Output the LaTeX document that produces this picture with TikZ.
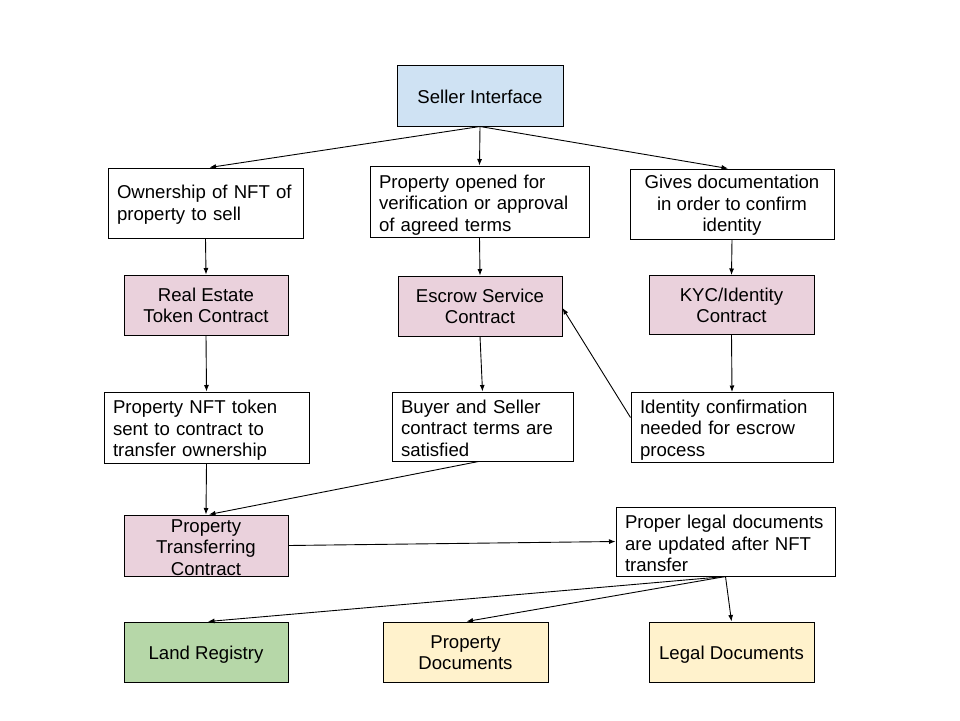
\documentclass[tikz,border=0pt]{standalone}
\usepackage{fontspec}
\setmainfont{Liberation Sans}
\usetikzlibrary{arrows.meta,calc}
\definecolor{cblue}{HTML}{CFE2F3}
\definecolor{cpink}{HTML}{EAD1DC}
\definecolor{cgreen}{HTML}{B6D7A8}
\definecolor{cyellow}{HTML}{FFF2CC}
\newcommand\topr[1]{\rule{0pt}{#1pt}}
\newcommand\botr[1]{\rule[-#1pt]{0pt}{#1pt}}
\begin{document}
\begin{tikzpicture}[x=1pt,y=-1pt,
  box/.style={draw=black, line width=1pt, rectangle, inner xsep=9pt, inner ysep=0pt,
              font=\fontsize{18.6}{21.5}\selectfont},
  lbox/.style={box, align=left},
  cbox/.style={box, align=center},
  conn/.style={line width=0.9pt, -{Latex[length=6.5pt,width=5pt]}}
]
\useasboundingbox[fill=white] (0,0) rectangle (960,720);

\node[cbox, fill=cblue, minimum width=166pt, minimum height=61pt] (seller) at (480,95.5) {\topr{19}Seller Interface\botr{4}};

\node[lbox, fill=white, minimum width=195pt, text width=177pt, minimum height=70pt] (own) at (205.5,203) {\topr{17}Ownership of NFT of\\property to sell\botr{4}};
\node[lbox, fill=white, minimum width=219pt, text width=201pt, minimum height=71pt] (open) at (479.5,201.5) {\topr{20}Property opened for\\verification or approval\\of agreed terms\botr{4}};
\node[cbox, fill=white, minimum width=204pt, minimum height=70pt] (gives) at (732,204) {\topr{16}Gives documentation\\in order to confirm\\identity\botr{4}};

\node[cbox, fill=cpink, minimum width=164pt, minimum height=60pt] (ret) at (206,305) {\topr{17.5}Real Estate\\Token Contract\botr{4}};
\node[cbox, fill=cpink, minimum width=164pt, minimum height=60pt] (esc) at (480,306) {\topr{17.5}Escrow Service\\Contract\botr{4}};
\node[cbox, fill=cpink, minimum width=165pt, minimum height=59pt] (kyc) at (731.5,305) {\topr{17.5}KYC/Identity\\Contract\botr{4}};

\node[lbox, fill=white, minimum width=205pt, text width=187pt, minimum height=71pt] (nft) at (206.5,427.5) {\topr{19}Property NFT token\\sent to contract to\\transfer ownership\botr{4}};
\node[lbox, fill=white, minimum width=181pt, text width=163pt, minimum height=69pt] (buyer) at (482.5,426.5) {\topr{17.4}Buyer and Seller\\contract terms are\\satisfied\botr{1}};
\node[lbox, fill=white, minimum width=202pt, text width=184pt, minimum height=70pt] (idc) at (732,427.5) {\topr{18}Identity confirmation\\needed for escrow\\process\botr{4}};

\node[cbox, fill=cpink, minimum width=164pt, minimum height=61pt] (ptc) at (206,545.5) {\topr{17}Property\\Transferring\\Contract\botr{0.4}};
\node[lbox, fill=white, minimum width=219pt, text width=201pt, minimum height=69pt] (legal) at (725.5,541.5) {\topr{18}Proper legal documents\\are updated after NFT\\transfer\botr{1}};

\node[cbox, fill=cgreen, minimum width=164pt, minimum height=60pt] (land) at (206,652) {\topr{19}Land Registry\botr{4}};
\node[cbox, fill=cyellow, minimum width=165pt, minimum height=60pt] (pdocs) at (465.5,652) {\topr{17.5}Property\\Documents\botr{4}};
\node[cbox, fill=cyellow, minimum width=165pt, minimum height=60pt] (ldocs) at (731.5,652) {\topr{19}Legal Documents\botr{4}};

\draw[conn] (seller.south) -- ([xshift=4pt]own.north);
\draw[conn] (seller.south) -- (open.north);
\draw[conn] (seller.south) -- ([xshift=-4pt]gives.north);
\draw[conn] (own.south) -- (ret.north);
\draw[conn] (open.south) -- (esc.north);
\draw[conn] (gives.south) -- (kyc.north);
\draw[conn] (ret.south) -- (nft.north);
\draw[conn] (esc.south) -- (buyer.north);
\draw[conn] (kyc.south) -- (idc.north);
\draw[conn] ([yshift=10pt]idc.west) -- ([yshift=-2pt]esc.east);
\draw[conn] (nft.south) -- (ptc.north);
\draw[conn] ([xshift=-4pt]buyer.south) -- ([xshift=3pt]ptc.north);
\draw[conn] (ptc.east) -- (legal.west);
\draw[conn] (legal.south) -- ([xshift=2pt]land.north);
\draw[conn] (legal.south) -- ([xshift=1pt]pdocs.north);
\draw[conn] (legal.south) -- (ldocs.north);
\end{tikzpicture}
\end{document}
